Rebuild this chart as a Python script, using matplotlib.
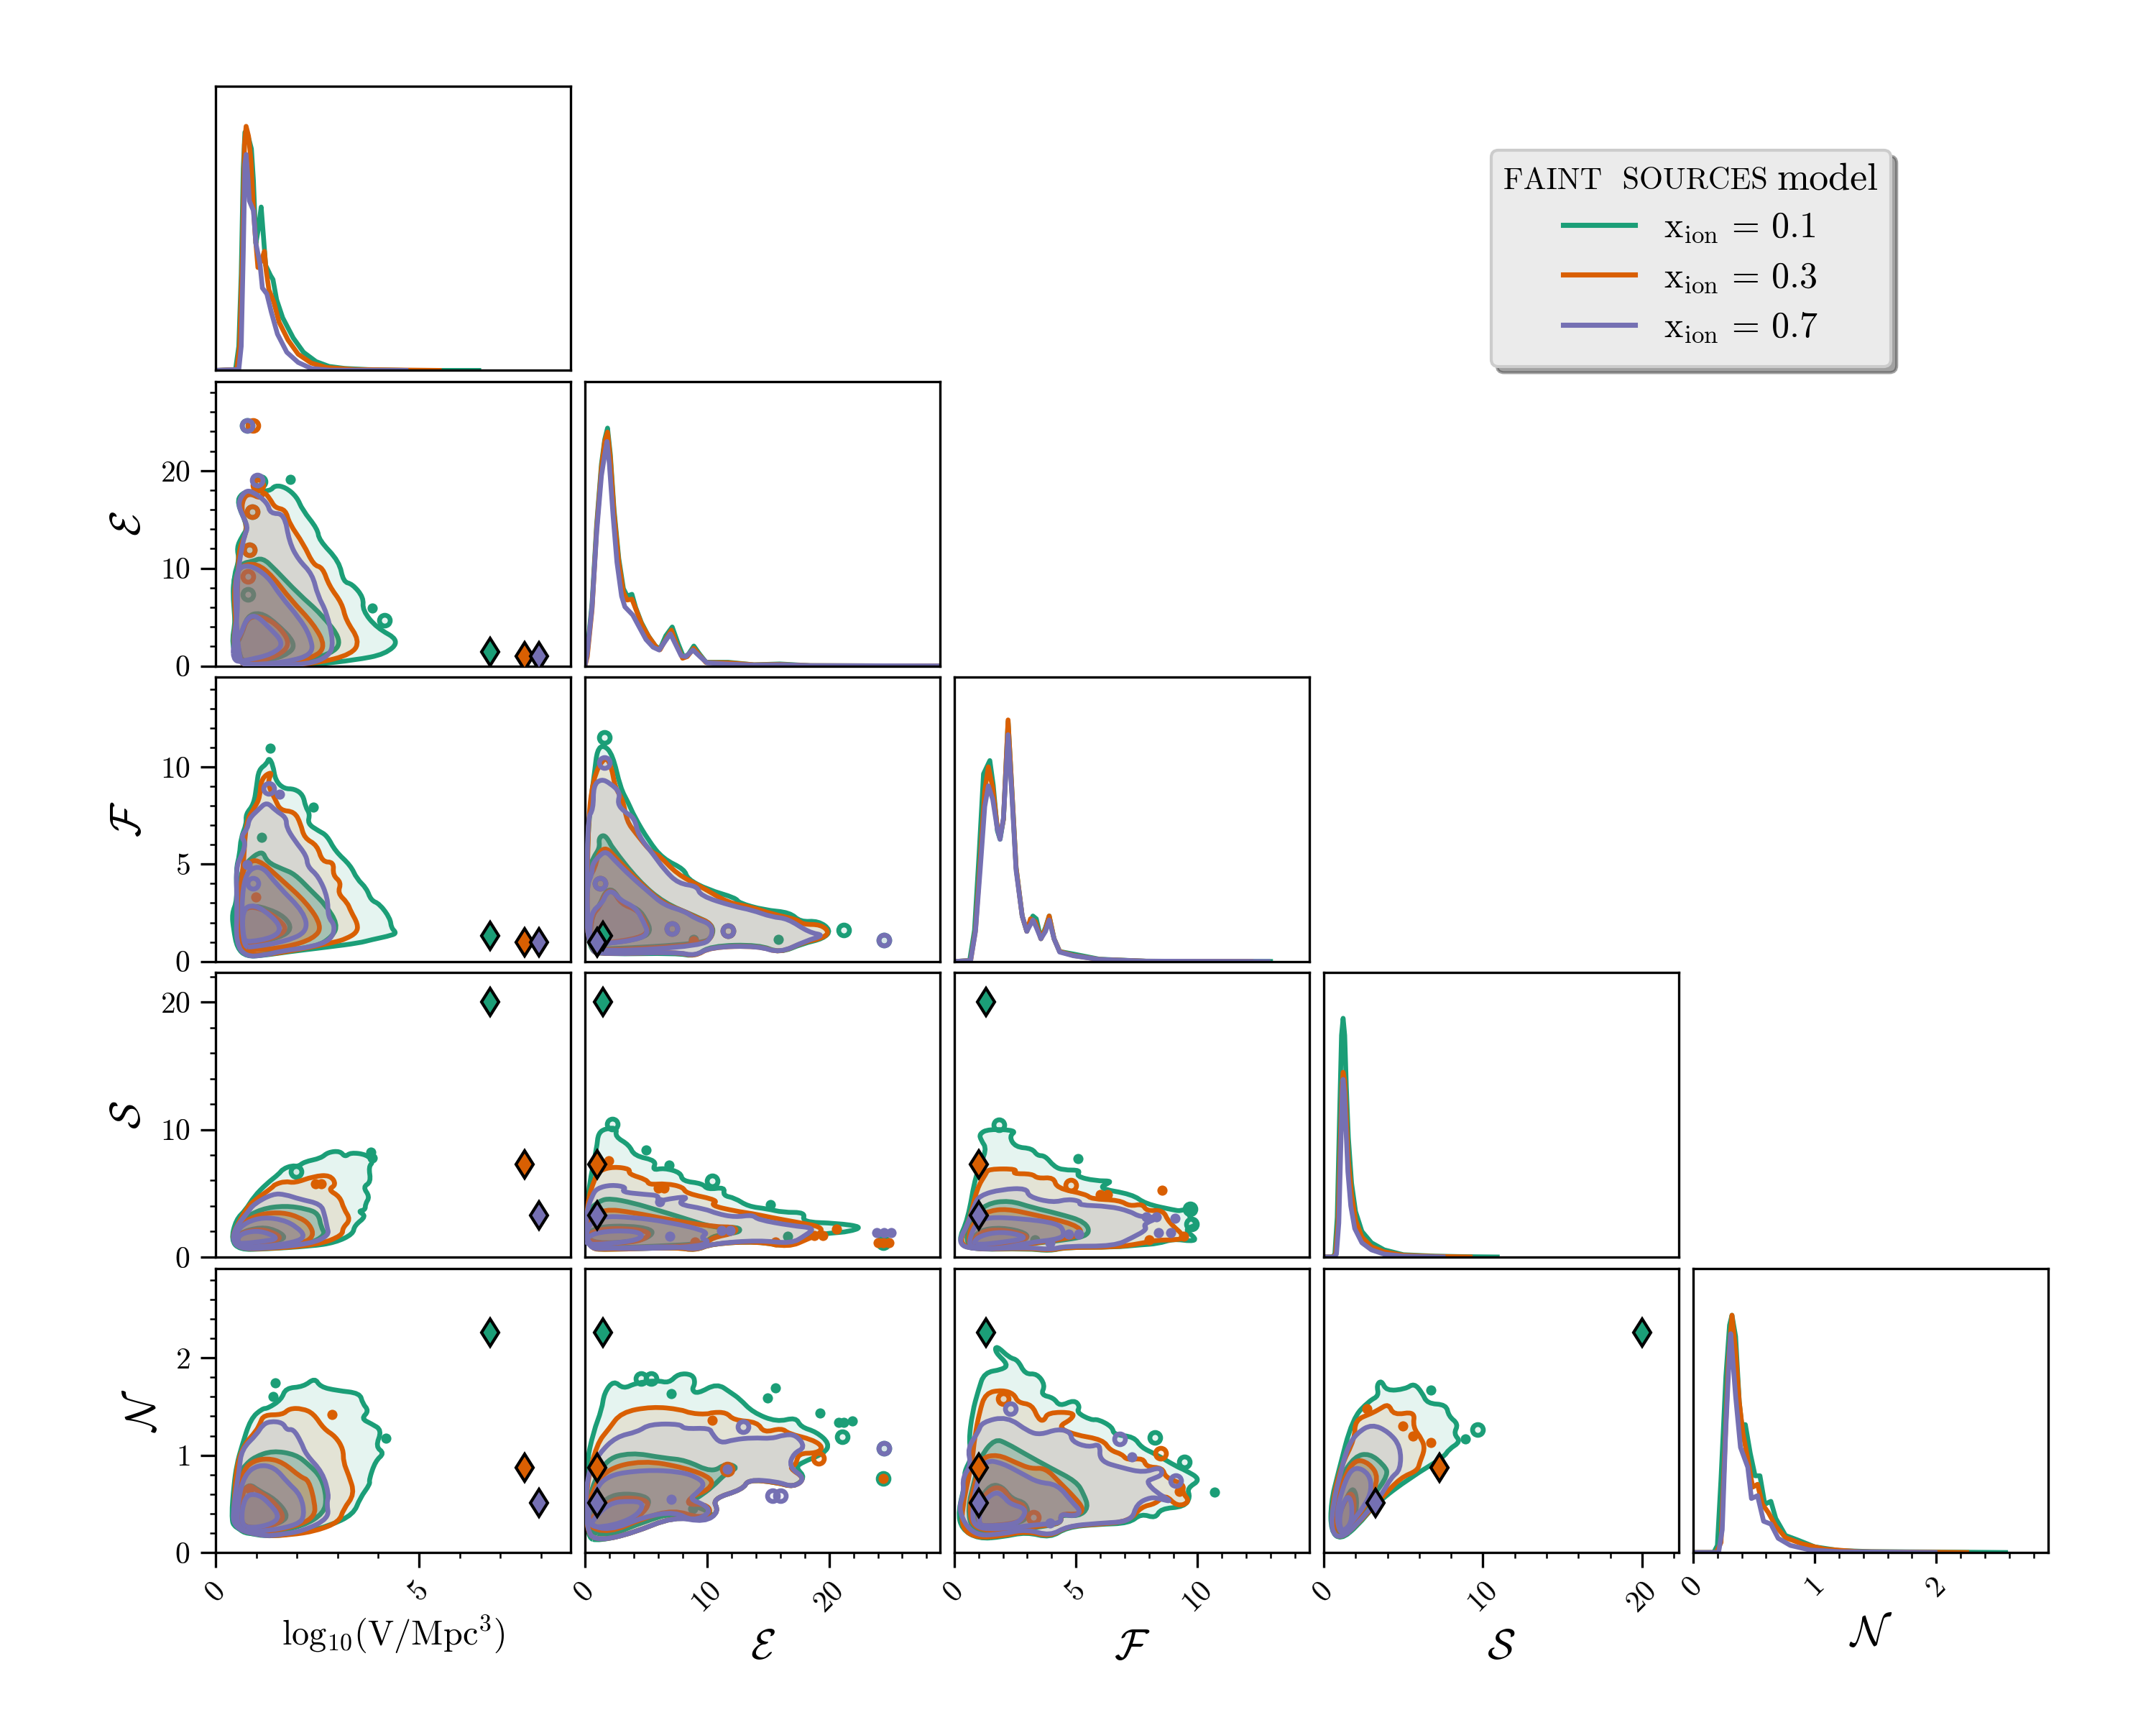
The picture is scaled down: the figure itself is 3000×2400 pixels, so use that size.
import matplotlib
matplotlib.use('Agg')
import numpy as np
import matplotlib.pyplot as plt
from matplotlib.colors import to_rgba
from matplotlib.lines import Line2D
from matplotlib.offsetbox import HPacker, TextArea
from matplotlib.patches import PathPatch
from matplotlib.path import Path
from matplotlib.ticker import MultipleLocator

plt.rcParams['font.family'] = 'cmr10'
plt.rcParams['mathtext.fontset'] = 'cm'
plt.rcParams['axes.formatter.use_mathtext'] = True
plt.rcParams['axes.unicode_minus'] = False

# parameters
labels = [r'$\mathrm{log_{10}(V/Mpc^3)}$', r'$\mathcal{E}$', r'$\mathcal{F}$', r'$\mathcal{S}$', r'$\mathcal{N}$']
limits = [8.73, 29.1, 14.6, 22.3, 2.92]
major = [5, 10, 5, 10, 1]
minor = [1, 2, 1, 2, 0.2]
colors = ['#1b9e77', '#d95f02', '#7570b3']
xion = ['0.1', '0.3', '0.7']

# true values (diamonds)
true_V = [6.75, 7.6, 7.95]
true_E = [1.45, 1.0, 1.0]
true_F = [1.3, 1.0, 1.0]
true_S = [20.0, 7.25, 3.25]
true_N = [2.26, 0.875, 0.51]
truths = [true_V, true_E, true_F, true_S, true_N]

# 1D posteriors, y in percent of panel height
V_G = ([0,.49,.57,.63,.68,.72,.8,.88,.93,.99,1.05,1.12,1.17,1.23,1.35,1.41,1.5,1.65,1.91,2.16,2.47,2.79,3.17,3.74,4.68,6.47],
       [0,.3,8.5,34,71,83.8,82.4,78,66.8,44.7,49.7,57.5,48.3,37,33.4,32,24.9,18.5,11.4,6.4,3.1,1.4,.7,.3,0,0])
V_O = ([0,.52,.59,.66,.71,.75,.81,.87,.92,.97,1.04,1.12,1.2,1.24,1.31,1.43,1.56,1.78,2.03,2.35,2.73,3.42,5.5],
       [0,.3,8.5,41.2,79.5,85.9,82.4,73.9,59.7,48.3,36.2,38.4,41.9,35.5,28.4,24.1,17,10.7,5.7,2.6,1,.3,0])
V_P = ([0,.57,.63,.68,.72,.75,.8,.83,.93,.99,1.09,1.15,1.26,1.37,1.52,1.75,2.03,2.35,2.79,4.68],
       [0,.3,8.5,41.2,72.4,76,66.8,59.7,56.2,44.7,37.6,29,26.9,20.5,12.8,6.4,2.8,.7,.1,0])
E_G = ([0,.19,.58,.96,1.35,1.62,1.85,2.08,2.38,2.77,3.15,3.46,3.85,4.15,4.62,5.19,5.77,6.15,6.62,7.15,7.62,8.08,8.46,8.92,9.42,9.92,11.73,13.85,15.96,18.46,29.1],
       [0,5.3,21.9,49.8,71,79.7,83.7,74.4,55.1,37.8,27.2,24.6,25.2,20.6,15.3,10.6,7,6,10.6,13.7,8,3.1,4,7,4,1.3,1.3,.4,.7,.1,0])
E_O = ([0,.19,.58,.96,1.35,1.62,1.85,2.08,2.38,2.77,3.15,3.46,3.85,4.23,4.69,5.27,5.85,6.15,6.62,7.08,7.54,8,8.38,8.92,9.42,9.92,11.73,13.85,15.96,18.46,29.1],
       [0,3.3,19.9,48.5,69.7,79,82.3,73,53.8,36.5,25.9,23.2,23.5,19.3,14.2,10,6.6,5.7,9.3,12.6,7.3,2.7,3.3,6.2,3.6,1.2,1.1,.4,.5,.1,0])
E_P = ([0,.19,.58,.96,1.35,1.62,1.81,2,2.31,2.62,3,3.27,3.92,4.42,5,5.58,6.08,6.46,7,7.38,7.88,8.27,8.85,9.42,10,11.54,13.85,16.15,18.46,29.1],
       [0,4.6,20.6,47.1,67,74.4,79,71,52.5,36.5,24.6,20.8,17.9,13.9,9.3,6.6,5.6,8,11.3,8,3.6,3.3,5.6,3.3,1.1,.7,.3,.4,.1,0])
F_G = ([0,.63,.83,1.02,1.2,1.46,1.6,1.77,1.88,2.02,2.21,2.35,2.54,2.79,2.98,3.23,3.37,3.56,3.75,3.9,4.1,4.33,4.9,5.96,7.88,13],
       [0,.3,11,38,66,70.7,62,46,43,50,84.4,63,33,16,10.6,16,15,8,12,16,8,3.5,2.6,.8,.1,0])
F_O = ([0,.67,.87,1.06,1.25,1.4,1.58,1.77,1.88,2.02,2.21,2.35,2.54,2.79,2.98,3.13,3.33,3.56,3.75,3.9,4.1,4.33,4.9,5.96,7.88,12.2],
       [0,.3,11,35,60,68.5,61,47,44,50,85,63,33,16,10.6,15,14,8,11.5,16,8,3.5,2.1,.7,.1,0])
F_P = ([0,.67,.87,1.06,1.25,1.4,1.58,1.77,1.88,2.02,2.21,2.35,2.54,2.79,2.98,3.23,3.37,3.56,3.75,3.9,4.1,4.33,4.9,5.96,7.88,12.9],
       [0,.3,10.6,32,54.5,61.8,57,46.5,43,50.5,79.8,61,32,16,10.6,14.6,12,8,10.6,14.6,8,3.3,2,.7,.1,0])
S_G = ([0,.55,.7,.85,1,1.12,1.22,1.32,1.42,1.55,1.75,2,2.4,3,3.8,5,7,9,10.9],
       [0,0,1,14,50,78,84,78,60,42,26,16,9,5,2.5,.8,.3,.1,0])
S_O = ([0,.6,.75,.9,1.05,1.15,1.22,1.32,1.42,1.55,1.75,2,2.4,3,3.8,5,7,9.2],
       [0,0,1,12,42,60,65,62,50,34,22,13,7,3.6,1.8,.6,.2,0])
S_P = ([0,.65,.8,.95,1.08,1.17,1.22,1.3,1.4,1.52,1.7,1.95,2.4,3,3.8,5,7.5],
       [0,0,1,12,40,58,62.5,58,45,30,18,10,5,2.5,1,.3,0])
N_G = ([0,.17,.2,.23,.27,.3,.32,.35,.38,.4,.43,.47,.51,.55,.59,.64,.68,.76,.86,1,1.2,1.47,1.95,2.57],
       [0,0,2.5,26,62,80,83.5,76,53,45,45,35,27,27,17,18,12,6,4.4,2,.7,.3,.2,0])
N_O = ([0,.19,.23,.26,.29,.32,.35,.38,.41,.45,.49,.53,.57,.62,.68,.76,.9,1.08,1.36,2.25],
       [0,0,3.5,35,67,83.5,71,53,42,33,23,24,17,14,9.3,5.2,3,1.2,.3,0])
N_P = ([0,.21,.24,.27,.3,.31,.35,.39,.45,.48,.53,.58,.64,.7,.8,.96,1.2,1.99],
       [0,0,8,44,71,77,55,37,30,19,20,11,10,5,2.5,.9,.3,0])
posteriors = [[V_G, V_O, V_P], [E_G, E_O, E_P], [F_G, F_O, F_P], [S_G, S_O, S_P], [N_G, N_O, N_P]]

# 2D contours: outer, middle, inner level per model
VE_G = [([.58,.39,.49,.45,.45,.58,.52,.64,.8,.52,.64,.9,1.34,1.46,1.72,2.0,2.13,2.51,2.54,3.04,3.14,3.36,3.64,3.61,3.96,4.53,4.18,3.42,2.47,1.53],
         [.16,2.23,4.7,7.6,9.2,10.9,12.1,13.2,14.2,16.7,17.7,17.9,17.9,18.5,18.3,17.3,16,14,12.9,10.7,8.6,8.4,7,5.7,3.9,2.6,1.2,.6,.16,.08]),
        ([.58,.42,.45,.64,.9,1.15,1.46,2.03,2.6,3.11,2.86,1.84,.9],[.37,6.8,9.2,10.5,10.7,11.1,9.9,7.4,5.3,2.6,1.2,.25,.08]),
        ([.45,.64,.77,1.09,1.46,2,1.72,1.02,.58],[1.8,3.1,5.1,5.5,4.5,2.2,1,.37,.58])]
VE_O = [([.58,.42,.52,.55,.58,.8,.64,.67,.83,1.12,1.18,1.34,1.46,1.72,1.81,2.16,2.41,2.63,2.79,3.11,3.2,3.54,3.36,2.47,1.53],
         [.16,2.2,5.1,9.6,12.1,14,15.8,17.1,17.7,17.1,17.9,17.1,16.2,16,14.6,12.5,10.3,10.1,8.2,6.4,4.7,2.6,1.2,.25,.08]),
        ([.58,.45,.49,.64,1.02,1.4,1.84,2.41,2.71,2.41,1.53,.77],[.37,6.4,9.2,10.3,10.5,9.2,6.8,4.3,2,.8,.25,.08]),
        ([.45,.64,.8,1.21,1.59,1.84,1.53,.9,.58],[1.8,3.3,5.1,5,3.9,2.2,1,.37,.58])]
VE_P = [([.58,.42,.55,.52,.61,.71,.8,.64,.55,.71,.9,1.28,1.34,1.69,1.81,2.03,2.38,2.51,2.73,2.9,2.79,2.29,1.21],
         [.16,2.2,5.5,8.8,11.3,13.4,14.2,15.6,16.7,17.9,17.9,16.7,15.6,15.6,12.7,10.9,9.4,7.2,5.5,2.4,1,.16,.08]),
        ([.58,.49,.49,.83,1.28,1.59,2.06,2.32,2.41,1.72,.77],[.37,5.9,9.9,10.4,9.2,7.2,4.9,3.1,1.2,.37,.08]),
        ([.42,.61,.74,.96,1.28,1.69,1.4,.77,.45],[2.2,3.1,4.7,5.3,4.1,2.3,1.2,.58,.37])]
VE_RINGS = [[(.78,24.6),(1.1,18.9),(.9,15.8),(.83,11.9),(.8,7.3),(4.15,4.7)],
            [(.92,24.6),(1.05,18.5),(.9,15.8),(.83,11.9),(.79,9.2)],
            [(.78,24.6),(1.03,19)]]
VE_BLOBS = [[(1.84,19.1),(3.85,5.9)], [], []]

VF_G = [([.76,.53,.44,.40,.53,.5,.59,.62,.76,.74,.94,1.01,1.06,1.26,1.31,1.41,1.47,1.68,1.94,2.15,2.21,2.32,2.26,2.53,2.74,2.94,3.32,3.47,3.71,3.82,4.03,4.29,4.32,4.44,4.35,3.82,3.53,2.76,1.76,1.18],
         [.25,.68,1.66,2.46,3.14,4.74,5.48,6.34,7.08,7.57,8.07,9.05,9.85,10.16,10.47,10.1,9.3,8.87,8.87,8.56,7.94,7.57,7.08,6.71,6.47,5.67,4.93,4.25,3.76,3.14,2.96,2.22,1.72,1.48,1.35,1.11,.95,.74,.49,.31]),
        ([.65,.53,.62,.76,1.15,1.26,1.65,1.94,2.35,2.71,3,2.88,2.47,1.47],[.68,3.02,4.5,5.11,5.73,5.11,4.74,4.5,3.63,2.89,1.91,1.29,.74,.55]),
        ([.65,.62,.88,1.29,1.71,1.88,1.59,.88],[1.05,2.52,2.89,2.71,2.28,1.66,1.23,.92])]
VF_O = [([.76,.53,.53,.68,.74,.97,1.09,1.12,1.41,1.26,1.47,1.59,1.94,2.09,2.18,2.5,2.62,2.91,2.88,3.09,3,3.24,3.32,3.5,3.47,3.21,2.94,2.06,1.18],
         [.43,1.05,2.77,4.62,7.2,7.94,8.44,9.42,9.79,9.17,8.31,7.76,7.7,7.08,6.34,5.97,5.11,5.11,4.43,4.06,3.51,3.02,2.59,1.91,1.48,1.17,.99,.62,.31]),
        ([.65,.59,.65,.76,1.03,1.59,2.24,2.62,2.41,1.76,.88],[.74,3.02,4.5,4.99,5.3,4.25,3.02,1.79,1.17,.74,.55]),
        ([.65,.62,.85,1.24,1.56,1.76,1.5,.88],[1.05,2.52,2.85,2.6,2.15,1.66,1.25,.92])]
VF_P = [([.74,.5,.53,.5,.65,.74,.62,.79,.82,1.06,1.26,1.47,1.74,1.74,1.94,2.24,2.26,2.53,2.76,2.76,2.94,2.85,2.35,1.65,1.18],
         [.25,.92,2.77,4.87,5.48,6.1,6.41,6.84,7.33,7.82,8.2,7.76,7.39,6.9,6.22,5.42,4.87,4.38,3.27,2.28,1.85,1.11,.74,.55,.31]),
        ([.65,.65,1.09,1.53,2.18,2.26,1.76,.94],[.74,4.37,5.05,3.88,2.52,1.54,1.05,.74]),
        ([.68,.65,.94,1.41,1.62,1.41,.82],[1.11,2.65,2.96,2.28,1.66,1.23,.99])]
VF_RINGS = [[], [], [(1.31,8.87),(.91,4.03)]]
VF_BLOBS = [[(1.34,10.95),(1.13,6.37),(2.41,7.94)], [(.99,3.33)], [(1.58,8.58),(.78,4.96)]]

VS_G = [([.59,.38,.5,.74,.94,1.26,1.56,1.65,1.88,2.03,2.18,2.59,2.76,3.06,3.18,3.32,3.71,3.88,3.76,3.82,3.62,3.79,3.68,3.68,3.5,3.71,3.41,3.38,2.94,2.35,1.18],
         [.57,1.32,2.93,3.69,4.73,5.77,6.52,6.9,7.18,7.09,7.47,7.75,8.22,8.32,7.84,8.2,8.04,7.47,7.09,5.87,5.5,4.73,4.16,3.69,3.59,3.21,2.46,1.8,1.13,.85,.62]),
        ([.56,.47,.65,1.12,1.71,2.24,2.53,2.59,2.71,2.24,1.18],[.85,2.17,2.93,3.78,4.03,3.78,3.4,2.36,1.7,.95,.7]),
        ([.53,.56,1.12,1.5,1.74,1.47,.71],[1.04,1.89,2.36,2.08,1.51,1.23,.95])]
VS_O = [([.59,.41,.5,.76,.91,1.41,1.44,1.71,1.94,2.41,2.82,2.97,2.76,3.06,3.15,3.32,3.12,3.12,2.53,1.18],
         [.66,1.42,2.36,3.78,4.35,5.48,5.67,5.95,5.8,6.33,6.43,5.67,5.29,4.73,3.78,2.93,2.27,1.7,.95,.62]),
        ([.56,.5,.68,1.12,1.65,2.06,2.32,2.42,2.12,1.18],[.85,2.08,2.74,3.4,3.5,3.12,2.55,1.61,1.04,.76]),
        ([.53,.56,1.06,1.41,1.62,1.41,.71],[1.04,1.85,2.2,1.95,1.5,1.23,.95])]
VS_P = [([.59,.41,.5,.79,.94,1.41,1.71,2.06,2.59,2.68,2.74,2.79,2.35,1.18],[.66,1.32,2.36,3.5,4.16,4.97,4.91,4.54,4.16,3.31,2.36,1.7,1.04,.66]),
        ([.53,.5,.76,1.18,1.65,2,2.21,1.94,1.06],[.85,1.98,2.74,3.12,2.93,2.36,1.61,1.13,.76]),
        ([.53,.59,1,1.35,1.53,1.18,.65],[1.13,1.8,2.08,1.8,1.42,1.23,1.04])]
VS_RINGS = [[(1.97,6.71)], [], []]
VS_BLOBS = [[(3.81,8.22),(3.85,7.75)], [(2.45,5.73),(2.6,5.73)], []]

EF_G = [([.17,.13,.38,.8,1,1.54,2.27,2.91,3.54,4.06,5.22,6.38,8.17,8.38,10.06,12.38,12.59,14.69,16.8,17.64,19.12,20.17,19.54,17.85,15.96,14.27,10.27,9.01,7.54,1.64],
         [.55,4.86,7.83,9.78,10.88,11.13,10.63,8.91,8.17,7.43,6.2,5.28,4.73,4.24,3.69,3.26,3.01,2.64,2.52,2.03,2.09,1.6,1.17,.92,.43,.86,.8,.25,.43,.37]),
        ([.17,.13,.69,1.22,1.12,1.54,1.96,2.17,4.38,6.48,9.01,10.48,10.48,9.64,1.64],[.68,4.49,5.35,5.84,6.33,6.52,6.21,5.9,4.14,3.01,2.34,1.9,1.29,.92,.62]),
        ([.38,.59,1.22,1.64,2.27,3.01,4.38,5.01,5.43,4.59,1.85,.59],[1.17,2.4,2.89,3.57,3.75,3.01,2.71,2.15,1.54,1.17,.92,.86])]
EF_O = [([.17,.21,.63,1.64,2.17,2.48,3.12,3.43,4.17,5.43,6.06,7.54,9.43,11.75,13.43,15.54,17.43,17.85,19.33,20.06,19.33,17.85,15.96,14.27,10.27,9.01,7.54,1.64],
         [.55,6.7,9.41,10.58,10.02,8.91,8.3,7.2,6.58,5.6,5.47,4.49,3.87,3.01,2.83,2.4,2.15,1.9,1.9,1.48,1.17,.98,.43,.8,.74,.25,.49,.37]),
        ([.17,.13,.8,1.12,1.75,2.48,4.58,6.48,8.17,9.01,10.38,10.48,9.64,1.64],[.74,4.12,4.74,5.6,5.87,5.35,3.99,2.95,2.58,2.28,1.97,1.29,.86,.55]),
        ([.38,.59,1.22,1.64,2.27,2.95,4.27,4.9,5.22,4.4,1.85,.59],[1.17,2.4,2.8,3.5,3.7,2.95,2.65,2.1,1.54,1.2,.95,.9])]
EF_P = [([.17,.17,.69,.69,1.33,2.06,2.91,2.65,3.22,4.06,4.38,5.64,6.48,7.64,9.22,9.43,12.17,13.64,15.33,16.59,18.38,19.64,18.06,15.96,14.17,10.27,9.01,7.54,1.64],
         [.55,7.32,7.82,9.04,9.38,9.16,8.67,8.12,7.69,7.38,6.46,5.47,4.73,4,3.87,3.38,2.83,2.65,2.28,2.21,1.48,1.35,1.05,.43,.8,.74,.28,.49,.37]),
        ([.17,.13,.59,.59,1.22,1.75,2.38,3.75,5.22,6.48,8.17,9.01,10.38,10.44,9.64,1.64],[.8,3.87,4.49,4.98,5.47,5.66,5.23,4.37,3.57,2.89,2.58,2.21,1.91,1.29,.8,.49]),
        ([.38,.48,1.43,1.75,2.27,2.91,4.17,4.8,5.22,4.17,1.85,.59],[1.17,2.52,3.01,3.51,3.63,3.14,2.77,2.03,1.41,1.11,.92,.92])]
EF_RINGS = [[(1.6,11.5),(21.2,1.6),(24.5,1.1),(7.1,1.69),(11.75,1.56),(1.22,4)],
            [(7.1,1.69),(11.75,1.56),(1.22,4)],
            [(1.6,10.23),(7.1,1.69),(11.75,1.56),(24.5,1.1),(1.22,4)]]
EF_BLOBS = [[(8.9,1.15),(15.85,1.14)], [(8.9,1.05)], []]

VN_G = [([1.18,.45,.39,.45,.52,.64,.86,1.15,1.28,1.62,1.72,2.16,2.44,2.57,2.98,3.55,3.61,3.77,3.58,3.83,4.09,3.93,4.15,3.93,3.77,3.8,3.55,3.39,2.79,2.16],
         [.155,.247,.378,.693,.903,1.087,1.375,1.48,1.48,1.572,1.69,1.703,1.795,1.703,1.664,1.638,1.533,1.454,1.375,1.323,1.257,1.087,1.021,.942,.745,.705,.56,.391,.273,.207]),
        ([.52,.45,.55,.74,.96,1.4,1.97,2.29,2.6,2.73,2.66,2.16,1.28],[.194,.509,.798,.903,.982,1.047,1.008,.903,.772,.562,.404,.273,.194]),
        ([.58,.64,.83,1.05,1.46,1.78,1.65,1.09],[.273,.614,.706,.64,.549,.391,.312,.247])]
VN_O = [([1.18,.45,.45,.52,.71,.99,1.09,1.18,1.65,1.81,2.13,2.41,2.66,2.95,3.14,3.14,3.27,3.42,3.14,3.04,2.47,1.84],
         [.168,.247,.509,.903,1.113,1.244,1.323,1.415,1.415,1.48,1.48,1.428,1.27,1.192,1.06,.929,.798,.601,.444,.315,.221,.181]),
        ([.52,.49,.68,.93,1.28,1.65,2.1,2.29,2.44,2.44,2.1,1.28],[.207,.509,.85,.942,.968,.929,.772,.745,.509,.378,.286,.207]),
        ([.58,.64,.83,1.05,1.4,1.69,1.56,1.09],[.273,.614,.693,.627,.535,.378,.299,.247])]
VN_P = [([1.18,.42,.45,.58,.64,1.02,1.15,1.34,1.65,1.75,1.91,2.1,2.22,2.63,2.79,2.73,2.79,2.16,1.53],
         [.168,.247,.509,.85,1.06,1.218,1.31,1.349,1.336,1.257,1.27,1.139,1.008,.824,.588,.509,.352,.221,.181]),
        ([.52,.55,.71,1.04,1.45,1.77,2.1,2.19,2.03,1.28],[.207,.535,.798,.903,.877,.719,.588,.378,.286,.22]),
        ([.61,.71,1.05,1.34,1.56,1.43,.9],[.286,.588,.601,.496,.378,.299,.247])]
VN_RINGS = [[], [], []]
VN_BLOBS = [[(1.46,1.743),(1.42,1.604),(4.18,1.178)], [(2.87,1.415),(.83,.659)], []]

ES_G = [([.1,.2,.98,1.08,1.77,2.65,2.46,3.63,4.03,5.89,5.5,6.48,7.86,7.96,9.63,10.02,11.49,11.3,12.28,13.36,14.93,16.21,18.07,17.78,20.63,22.79,21.61,20.24,18.07,16.7,14.15,10.41,9.04,7.47,1.96],
         [.66,5.01,8.6,9.73,10.11,10.11,9.45,8.79,7.94,7.56,6.8,6.99,6.62,5.96,5.77,5.29,5.48,4.82,4.63,3.97,3.78,3.5,3.5,2.74,2.65,2.36,1.98,1.89,1.61,.76,1.23,1.04,.51,.76,.57]),
        ([.1,.1,1.18,2.06,3.93,5.89,7.86,10.61,12.57,12.77,11.59,10.41,9.82,5.89,.98],[1.23,3.5,4.41,4.6,4.25,3.69,3.12,2.27,2.36,1.98,1.8,1.61,1.04,.85,.66]),
        ([.1,.98,3.54,5.5,5.5,4.32,.79],[1.7,2.36,2.46,2.17,1.7,1.23,1.04])]
ES_O = [([.1,.16,.79,1.18,2.36,3.73,3.54,5.11,5.21,6.68,8.06,8.25,11,10.22,12.38,13.75,15.13,17.29,19.45,19.25,18.27,16.7,14.15,10.41,9.04,7.47,1.96],
         [.66,4.25,6.14,6.8,7.09,6.9,6.52,6.05,5.67,5.77,5.48,5,4.44,4.06,3.59,3.4,3.12,2.74,2.36,1.8,1.42,.76,1.23,1.04,.51,.76,.57]),
        ([.1,.1,1.57,3.93,6.88,10.61,12.38,12.38,10.41,9.82,5.89,.98],[1.23,2.93,3.78,3.5,2.93,2.36,2.36,1.89,1.51,.95,.76,.57]),
        ([.1,.98,3.34,5.3,5.11,3.93,.79],[1.61,2.17,2.27,1.98,1.51,1.13,1.04])]
ES_P = [([.1,.1,.59,.98,2.16,3.44,2.95,4.91,6.09,5.89,7.27,8.55,7.47,9.82,10.81,12.28,13.75,14.15,16.9,18.86,18.07,16.9,14.24,10.41,9.04,7.47,1.96],
         [.66,3.5,4.82,5.39,5.67,5.48,5.1,4.91,4.82,4.35,4.63,4.73,4.16,3.78,3.4,3.12,3.31,2.93,2.46,2.27,1.7,1.04,1.32,1.04,.57,.85,.66]),
        ([.1,.2,1.18,3.93,6.88,10.22,9.43,10.22,9.43,5.89,.98],[1.32,2.36,3.21,3.12,2.74,1.98,1.51,1.23,.85,.66,.66]),
        ([.1,1.18,3.54,4.81,4.32,1.96,.1],[1.51,1.98,2.08,1.8,1.32,1.04,.95])]
ES_RINGS = [[(2.26,10.4),(10.4,5.95),(24.46,1.13)], [], []]
ES_BLOBS = [[(5.01,8.41),(6.88,7.22),(16.6,1.61),(15.2,4.12)],
            [(1.96,7.56),(6.0,5.39),(6.5,5.39),(20.6,2.21),(18.8,1.66),(19.5,1.66),(15.6,1.19),(9,1.19),(24.0,1.13),(24.46,1.13),(24.9,1.13)],
            [(6.1,4.35),(11.2,2.08),(11.9,2.08),(6.97,1.64),(23.9,1.89),(24.5,1.89),(25.1,1.89)]]

FS_G = [([.67,.14,.56,.88,1.35,1.09,1.03,1.4,2.57,2.25,2.51,3.2,3.41,3.73,4.1,4.47,5.21,4.99,5.79,6.58,5.84,7.32,7.85,9.01,9.32,9.9,9.54,10.06,9.43,9.96,9.75,9.01,8.37,7.63,6.58,4.57,3.94,2.99],
         [.57,1.23,2.94,6.53,8.43,9.19,9.66,10.04,9.94,9.47,8.62,8.52,7.95,7.95,7.1,6.82,6.82,6.34,5.97,5.97,5.4,4.92,4.17,3.69,3.6,3.98,3.31,2.56,2.18,1.42,1.23,1.42,1.04,.95,.76,.76,.47,.66]),
        ([.67,.45,.82,1.3,2.25,3.2,4.26,5.42,5.58,4.57,3.09,1.93],[.66,1.61,3.13,4.17,4.45,3.88,3.41,2.75,1.7,1.33,1.04,.66]),
        ([.67,.98,1.93,2.99,2.99,1.93,.88],[1.04,2.08,2.33,1.89,1.33,.95,.76])]
FS_O = [([.67,.19,.61,.93,1.3,1.4,2.62,2.36,3.2,3.41,4.1,4.2,5.42,5.63,6.79,7.21,7.74,7.9,8.59,8.8,9.54,9.11,8.27,7.63,6.58,4.57,3.94,2.99],
         [.57,1.23,2.74,5.4,6.53,6.91,6.91,6.53,6.53,6.16,6.25,5.4,4.92,4.55,4.46,3.98,4.17,3.6,3.69,2.74,1.52,1.33,1.33,1.04,.76,.76,.51,.7]),
        ([.67,.56,.93,1.4,2.14,3.3,4.99,5.31,4.57,3.09,1.93],[.66,1.7,3.13,3.6,3.79,3.31,2.56,1.8,1.42,1.04,.63]),
        ([.72,1.03,1.93,3.04,2.88,1.93,.93],[1.04,1.99,2.18,1.7,1.33,1.04,.81])]
FS_P = [([.67,.14,.56,.82,1.04,1.93,2.99,3.04,4.04,4.68,5.21,5.1,6.37,7.21,7.63,8.48,7.74,7.95,7.32,6.58,4.57,3.94,2.99],
         [.57,1.14,2.56,4.07,4.83,5.31,5.4,4.73,4.26,4.55,4.36,4.07,3.98,3.6,3.13,3.13,2.56,2.18,1.52,.85,.85,.57,.76]),
        ([.67,.61,.93,1.4,2.67,4.26,4.52,4.41,3.09,1.93],[.66,1.42,2.75,3.13,3.03,2.65,1.99,1.42,1.14,.66]),
        ([.77,1.09,1.93,2.78,2.88,1.93,.98],[1.14,1.7,1.99,1.7,1.42,1.14,.95])]
FS_RINGS = [[(9.75,2.56),(1.83,10.38),(9.7,3.79)], [(4.78,5.63)], []]
FS_BLOBS = [[(5.08,7.71),(3.3,1.33)], [(8.53,5.25),(6.0,4.92),(6.3,4.92),(9.43,1.61),(8,1.33)],
            [(7.9,3.13),(8.3,3.13),(9.06,3.03),(8.4,1.89),(8.9,1.89),(3.94,1.14),(4.7,1.8),(5.1,1.8)]]

EN_G = [([.1,.1,.69,1.38,1.57,2.36,3.14,4.13,5.89,6.88,7.66,8.84,9.04,8.74,9.23,10.81,11.98,12.67,13.75,15.72,17.29,17.68,18.96,20.04,19.65,17.68,17.29,18.07,17.09,15.72,13.36,12.97,10.41,11,9.82,7.27,3.93,1.18],
         [.15,.9,1.24,1.47,1.64,1.77,1.68,1.74,1.77,1.74,1.84,1.83,1.74,1.67,1.63,1.74,1.64,1.58,1.44,1.34,1.39,1.29,1.24,1.12,1.02,.92,.87,.77,.67,.72,.75,.65,.55,.42,.32,.37,.2,.12]),
        ([.1,.2,1.57,3.73,6.48,8.25,10.41,11.59,12.57,11.59,10.41,9.43,8.45,10.61,9.82,7.27,4.91,1.96],[.22,.55,.95,1.03,.97,.95,.82,.92,.87,.82,.67,.58,.5,.4,.34,.41,.32,.17]),
        ([.2,1.77,3.34,5.3,5.11,3.73,1.57,.29],[.35,.57,.61,.57,.45,.32,.24,.26])]
EN_O = [([.1,.1,.98,1.96,2.95,5.5,7.86,8.64,10.02,10.41,11.59,12.18,14.15,14.64,16.11,16.7,18.66,19.55,18.96,17.49,17.29,16.7,18.07,17.09,15.72,13.36,12.97,10.41,11,9.82,7.27,3.93,1.18],
         [.2,.69,1.12,1.27,1.44,1.5,1.47,1.43,1.42,1.44,1.44,1.36,1.34,1.23,1.28,1.22,1.16,1.08,1.02,1.02,.9,.87,.76,.67,.72,.75,.65,.55,.42,.32,.37,.2,.12]),
        ([.1,.39,1.57,4.72,8.25,10.51,10.22,8.64,8.35,9.82,10.41,9.43,7.27,4.72,1.96],[.27,.57,.85,.95,.87,.76,.65,.57,.49,.5,.42,.35,.44,.35,.2]),
        ([.29,1.87,3.54,5.3,4.91,3.54,1.57,.39],[.32,.53,.57,.53,.42,.3,.24,.27])]
EN_P = [([.1,.1,1.18,2.55,4.32,5.3,7.86,8.06,10.22,10.41,11.1,12.18,13.75,15.32,16.31,17.29,18.07,17.09,16.7,18.07,17.09,15.72,13.36,12.97,10.41,11,9.82,7.27,3.93,1.18],
         [.2,.8,1.02,1.19,1.24,1.32,1.32,1.27,1.28,1.22,1.12,1.16,1.18,1.17,1.21,1.21,1.08,1.02,.88,.76,.67,.73,.75,.65,.55,.42,.31,.37,.2,.12]),
        ([.1,.59,1.57,4.91,7.86,9.23,9.82,9.23,8.55,9.82,10.31,8.84,7.37,4.91,1.96],[.3,.55,.79,.85,.83,.77,.7,.62,.55,.49,.41,.32,.42,.37,.22]),
        ([.49,1.96,3.73,4.81,4.42,3.14,1.38,.59],[.31,.51,.53,.51,.4,.31,.26,.27])]
EN_RINGS = [[(4.6,1.79),(5.4,1.79),(21.1,1.19),(24.5,1.07),(24.46,.76)], [(19.15,.97),(11.69,.86)], [(12.97,1.29),(24.5,1.07),(15.4,.58),(16,.58)]]
EN_BLOBS = [[(7.07,1.63),(15.58,1.69),(14.97,1.59),(19.25,1.43),(21.9,1.35),(21.2,1.34),(20.8,1.34),(8.84,.45)],
            [(10.41,1.36),(24.46,.76)], [(7.07,.55),(11.69,.86)]]

FN_G = [([.99,.3,.15,.49,.39,.74,.59,.74,.99,1.23,1.97,2.22,1.67,1.72,2.27,2.61,2.91,3.4,3.74,3.55,4.09,4.33,4.93,5.17,5.02,5.62,5.91,6.5,6.55,7.39,7.68,8.28,9.16,9.46,10.15,9.56,9.7,9.46,8.47,8.28,7.68,7.19,5.91,4.63,3.94,2.96,1.97],
         [.14,.24,.42,.75,.82,.99,1.14,1.44,1.67,1.85,1.88,1.93,2.06,2.13,2,1.98,1.83,1.84,1.72,1.62,1.59,1.5,1.57,1.5,1.44,1.36,1.37,1.29,1.21,1.19,1.08,1.01,.88,.85,.75,.66,.57,.47,.45,.35,.4,.3,.29,.26,.15,.21,.16]),
        ([.74,.54,.84,1.08,1.67,2.17,2.86,3.94,5.02,5.32,5.52,5.12,4.33,4.43,3.45,1.97],[.22,.45,.75,.99,1.17,1.12,1.02,.87,.73,.6,.46,.37,.39,.3,.26,.21]),
        ([.89,.99,1.48,1.97,2.36,2.96,3.05,2.66,1.18],[.27,.52,.7,.68,.55,.51,.37,.3,.26])]
FN_O = [([.89,.3,.34,.59,.74,.84,1.03,1.28,1.97,2.46,2.61,3.2,3.45,3.69,3.84,4.93,4.83,4.24,4.93,6.11,6.4,6.9,7.09,7.78,7.88,8.57,8.67,9.46,9.36,9.7,9.16,8.67,8.28,7.68,7.19,5.91,4.63,3.94,2.96,1.97],
         [.15,.25,.47,.77,.95,1.19,1.44,1.64,1.67,1.63,1.54,1.52,1.37,1.35,1.44,1.44,1.37,1.29,1.21,1.16,1.05,1.01,.95,.97,.88,.87,.77,.7,.62,.52,.47,.6,.5,.47,.32,.29,.27,.16,.22,.17]),
        ([.79,.59,.89,1.08,1.77,2.56,3.15,3.74,4.33,4.93,5.32,5.12,4.33,4.43,3.45,1.97],[.24,.45,.75,.97,1.01,.92,.86,.87,.72,.57,.45,.39,.4,.3,.27,.22]),
        ([.99,1.03,1.53,2.02,2.32,2.91,2.91,2.56,1.28],[.29,.51,.67,.66,.53,.49,.37,.3,.27])]
FN_P = [([.79,.15,.39,.34,.69,.54,.99,1.13,2.17,3.05,3.55,4.24,4.78,4.83,5.52,6.01,5.96,6.9,7.78,8.47,8.57,8.18,7.88,8.28,8.97,8.47,8.08,7.49,7.29,5.91,4.63,3.94,2.96,1.97],
         [.17,.42,.62,.77,.9,1.07,1.24,1.34,1.4,1.24,1.21,1.27,1.24,1.14,1.08,1.12,.94,.87,.82,.88,.8,.76,.73,.62,.52,.55,.57,.5,.32,.3,.27,.17,.24,.19]),
        ([.79,.74,.99,1.28,1.97,2.86,3.45,4.24,4.83,5.22,4.93,4.33,4.43,3.45,1.97],[.25,.47,.77,.95,.92,.8,.72,.7,.52,.42,.37,.4,.3,.29,.24]),
        ([.99,1.08,1.67,2.02,2.27,2.96,2.81,2.46,1.28],[.29,.49,.63,.58,.5,.45,.35,.29,.27])]
FN_RINGS = [[(8.26,1.18),(9.46,.93)], [(8.47,1.02),(2.02,1.58),(3.25,.36)], [(6.8,1.17),(9.11,.74),(2.3,1.48)]]
FN_BLOBS = [[(10.69,.62)], [(9.26,.63)], [(7.29,.98),(3.94,.3)]]

SN_G = [([1.06,.45,.45,.91,1.81,2.87,3.47,3.32,3.63,3.93,5.14,5.68,6.19,6.5,7.7,7.85,8.46,8.16,8.61,7.85,7.55,5.44,3.32,2.11],
         [.13,.22,.51,.82,1.38,1.56,1.61,1.72,1.77,1.66,1.68,1.74,1.64,1.53,1.52,1.4,1.32,1.22,1.14,1.06,.98,.77,.51,.27]),
        ([1.06,.54,1.06,1.96,2.87,3.78,4.08,3.02,1.81],[.15,.35,.77,.99,1.02,.9,.8,.56,.27]),
        ([1.06,.91,1.51,1.87,2.11,1.96,1.51],[.21,.38,.59,.67,.54,.35,.22])]
SN_O = [([1.06,.54,.54,1.06,1.96,1.96,3.02,3.47,4.08,4.38,5.74,5.59,6.19,6.35,6.04,5.89,4.83,3.63,2.11],
         [.14,.22,.51,.88,1.17,1.36,1.43,1.47,1.53,1.41,1.45,1.29,1.16,1.06,.93,.84,.77,.56,.29]),
        ([1.06,.66,1.21,1.96,2.87,3.47,2.87,1.81],[.17,.38,.75,.96,.92,.77,.54,.29]),
        ([1.06,.91,1.42,1.75,1.96,1.81,1.42],[.21,.37,.56,.62,.51,.34,.22])]
SN_P = [([1.06,.45,.6,1.06,1.51,2.11,3.02,4.08,4.83,4.83,4.23,3.63,2.11],[.14,.22,.51,.82,1.09,1.23,1.32,1.24,1.09,.85,.77,.59,.29]),
        ([1.06,.76,1.36,1.96,2.87,3.02,2.57,1.66],[.17,.4,.75,.89,.81,.64,.48,.29]),
        ([1.06,.97,1.36,1.66,1.81,1.66],[.21,.38,.56,.57,.43,.27])]
SN_RINGS = [[(9.67,1.26)], [], []]
SN_BLOBS = [[(6.71,1.67),(8.91,1.17)], [(4.98,1.3),(5.59,1.2),(6.71,1.13),(2.72,1.48)], []]

# panel (row, col) -> contours and islands
contours = {(1, 0): [VE_G, VE_O, VE_P], (2, 0): [VF_G, VF_O, VF_P], (3, 0): [VS_G, VS_O, VS_P],
            (4, 0): [VN_G, VN_O, VN_P], (2, 1): [EF_G, EF_O, EF_P], (3, 1): [ES_G, ES_O, ES_P],
            (4, 1): [EN_G, EN_O, EN_P], (3, 2): [FS_G, FS_O, FS_P], (4, 2): [FN_G, FN_O, FN_P],
            (4, 3): [SN_G, SN_O, SN_P]}
rings = {(1, 0): VE_RINGS, (2, 0): VF_RINGS, (3, 0): VS_RINGS, (4, 0): VN_RINGS, (2, 1): EF_RINGS,
         (3, 1): ES_RINGS, (4, 1): EN_RINGS, (3, 2): FS_RINGS, (4, 2): FN_RINGS, (4, 3): SN_RINGS}
blobs = {(1, 0): VE_BLOBS, (2, 0): VF_BLOBS, (3, 0): VS_BLOBS, (4, 0): VN_BLOBS, (2, 1): EF_BLOBS,
         (3, 1): ES_BLOBS, (4, 1): EN_BLOBS, (3, 2): FS_BLOBS, (4, 2): FN_BLOBS, (4, 3): SN_BLOBS}

level_alpha = [0.11, 0.30, 0.15]
line_width = 1.6


def closed_curve(x, y):
    # rounded closed outline through the midpoints of the read points
    p = np.column_stack([x, y])
    mid = (p + np.roll(p, -1, axis=0)) / 2
    verts = [mid[-1]]
    codes = [Path.MOVETO]
    for i in range(len(p)):
        verts += [p[i], mid[i]]
        codes += [Path.CURVE3, Path.CURVE3]
    return Path(verts, codes)


fig, axes = plt.subplots(5, 5, figsize=(10, 8), dpi=300)
fig.subplots_adjust(left=0.1, right=0.95, bottom=0.1, top=0.95, wspace=0.04, hspace=0.04)

for row in range(5):
    for col in range(5):
        ax = axes[row, col]
        if col > row:
            ax.axis('off')
            continue
        ax.set_xlim(0, limits[col])
        if row == col:
            ax.set_ylim(0, 100)
            for c, (x, y) in zip(colors, posteriors[col]):
                ax.plot(x, y, color=c, lw=line_width)
            ax.set_yticks([])
        else:
            ax.set_ylim(0, limits[row])
            for k, c in enumerate(colors):
                for level, (x, y) in enumerate(contours[(row, col)][k]):
                    ax.add_patch(PathPatch(closed_curve(x, y), facecolor=to_rgba(c, level_alpha[level]),
                                           edgecolor=c, lw=line_width, joinstyle='round', zorder=2 + k))
                pts = rings[(row, col)][k]
                if pts:
                    ax.plot([p[0] for p in pts], [p[1] for p in pts], 'o', ms=3.6, mew=line_width,
                            mfc=to_rgba(c, 0.11), mec=c, zorder=2 + k)
                pts = blobs[(row, col)][k]
                if pts:
                    ax.plot([p[0] for p in pts], [p[1] for p in pts], 'o', ms=3.4, mew=0, color=c, zorder=2 + k)
            for k, c in enumerate(colors):
                ax.plot(truths[col][k], truths[row][k], 'd', ms=6.6, mfc=c, mec='k', mew=1.0, zorder=6)
            if col == 0:
                ax.yaxis.set_major_locator(MultipleLocator(major[row]))
                ax.yaxis.set_minor_locator(MultipleLocator(minor[row]))
                ax.tick_params(axis='y', which='major', length=5, labelsize=10)
                ax.tick_params(axis='y', which='minor', length=2)
                ax.set_ylabel(labels[row], fontsize=14)
            else:
                ax.set_yticks([])
        if row == 4:
            ax.xaxis.set_major_locator(MultipleLocator(major[col]))
            ax.xaxis.set_minor_locator(MultipleLocator(minor[col]))
            ax.tick_params(axis='x', which='major', length=3.5 if col == 4 else 5, labelsize=10, labelrotation=45)
            ax.tick_params(axis='x', which='minor', length=2)
            if col == 0:
                ax.set_xlabel(labels[col], fontsize=11.6, labelpad=2)
            else:
                ax.set_xlabel(labels[col], fontsize=14)
        else:
            ax.set_xticks([])

handles = [Line2D([], [], color=c, lw=1.7) for c in colors]
names = [r'$\mathrm{x_{ion}}\,=\,' + v + '$' for v in xion]
leg = fig.legend(handles, names, loc='upper left', bbox_to_anchor=(0.6915, 0.913), fontsize=12, title=' ',
                 fancybox=True, shadow=True, facecolor='#ebebeb', framealpha=1.0, edgecolor='0.8',
                 borderaxespad=0, borderpad=0.35, labelspacing=0.45, handletextpad=0.8)
# small capitals in the legend title
title_row = HPacker(children=[TextArea('FAINT  SOURCES', textprops=dict(fontsize=10.2, family='cmr10')),
                              TextArea('model', textprops=dict(fontsize=13, family='cmr10'))],
                    align='baseline', pad=0, sep=3)
leg._legend_box.get_children()[0] = title_row
leg._legend_box.get_children()[1].pad = 3
leg._legend_box.sep = 2
leg._legend_box.set_figure(fig)

fig.savefig('out.png', dpi=300)
